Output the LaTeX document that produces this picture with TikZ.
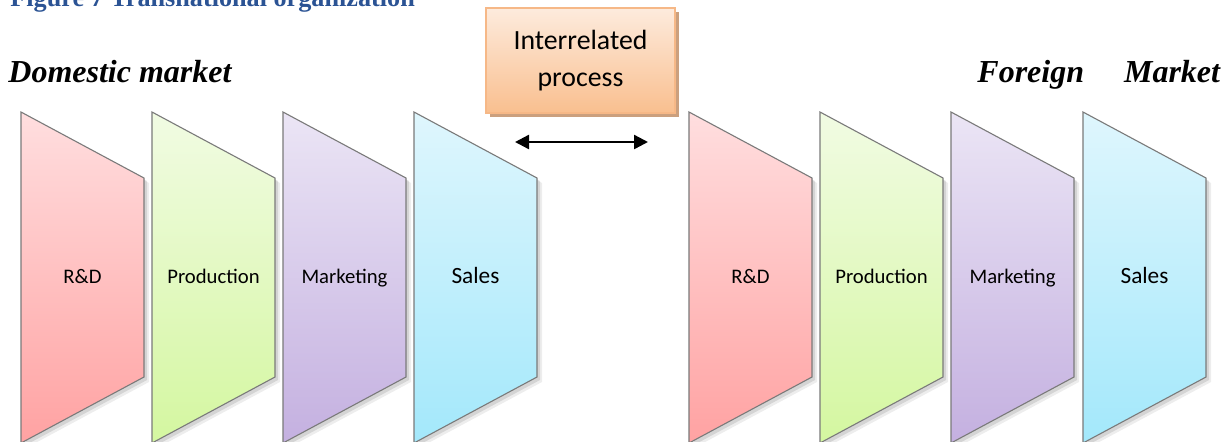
\documentclass[tikz,border=0pt]{standalone}
\usepackage{fontspec}
\setmainfont{Liberation Serif}
\newfontfamily\calib{Carlito}
\usetikzlibrary{arrows.meta,shadows}
\definecolor{titleblue}{HTML}{2B5394}
\definecolor{edgegray}{HTML}{7A7A7A}
\definecolor{rdT}{HTML}{FFDEDF}
\definecolor{rdB}{HTML}{FFA2A2}
\definecolor{prT}{HTML}{F1FBE3}
\definecolor{prB}{HTML}{D4F7A0}
\definecolor{mkT}{HTML}{EBE5F5}
\definecolor{mkB}{HTML}{C4B0E0}
\definecolor{saT}{HTML}{DFF6FD}
\definecolor{saB}{HTML}{A3E8FB}
\definecolor{boxT}{HTML}{FDEBDD}
\definecolor{boxB}{HTML}{F9BF8F}
\definecolor{boxedge}{HTML}{F6B887}
\definecolor{boxshadow}{HTML}{CBA07E}
\tikzset{
  titletext/.style={font=\bfseries\fontsize{13.1}{15}\selectfont, text=titleblue, inner sep=0pt, anchor=base west},
  mkttext/.style={font=\bfseries\itshape\fontsize{16}{19}\selectfont, inner sep=0pt, anchor=base west},
  panellabel/.style={inner sep=0pt, anchor=base},
  panelshape/.style={draw=edgegray, line width=0.55pt},
  procbox/.style={draw=boxedge, line width=0.8pt, top color=boxT, bottom color=boxB,
    minimum width=94.5pt, minimum height=52.5pt, inner sep=0pt, align=center,
    font=\calib\fontsize{13.9}{18.5}\selectfont,
    drop shadow={shadow xshift=2pt, shadow yshift=-2pt, fill=boxshadow, opacity=1}},
  twoway/.style={line width=1.2pt, {Triangle[length=7pt,width=7pt]}-{Triangle[length=7pt,width=7pt]}}
}
\begin{document}
\begin{tikzpicture}[x=0.5pt,y=-0.5pt]
\useasboundingbox (0,0) rectangle (1230,441);
\clip (0,0) rectangle (1230,441);
\fill[white] (0,0) rectangle (1230,441);

\node[titletext] (title) at (10,6) {Figure 7 Transnational organization};
\node[mkttext] (dom) at (8,82) {Domestic market};
\node[mkttext] (for) at (977,82) {Foreign\hspace{20pt}Market};

\foreach \xx/\nm/\lab/\cl/\fs in {
  21/rdA/R\&D/rd/10.35, 152/prA/Production/pr/10.35, 283/mkA/Marketing/mk/10.35, 414/saA/Sales/sa/11.65,
  689/rdB/R\&D/rd/10.35, 820/prB/Production/pr/10.35, 951/mkB/Marketing/mk/10.35, 1083/saB/Sales/sa/11.65}{
  \fill[black,opacity=0.07] (\xx+5,117) -- (\xx+128,183) -- (\xx+128,382) -- (\xx+5,448) -- cycle;
  \fill[black,opacity=0.1] (\xx+3,115) -- (\xx+126,181) -- (\xx+126,380) -- (\xx+3,446) -- cycle;
  \path[panelshape, top color=\cl T, bottom color=\cl B]
    (\xx,112) -- (\xx+123,178) -- (\xx+123,377) -- (\xx,443) -- cycle;
  \node[panellabel, font=\calib\fontsize{\fs}{13}\selectfont] (\nm) at (\xx+61.5,283) {\lab};
}

\node[procbox] (box) at (580.5,60.5) {Interrelated\\process};
\coordinate (aL) at (515,142);
\coordinate (aR) at (648,142);
\draw[twoway] (aL) -- (aR);
\end{tikzpicture}
\end{document}
